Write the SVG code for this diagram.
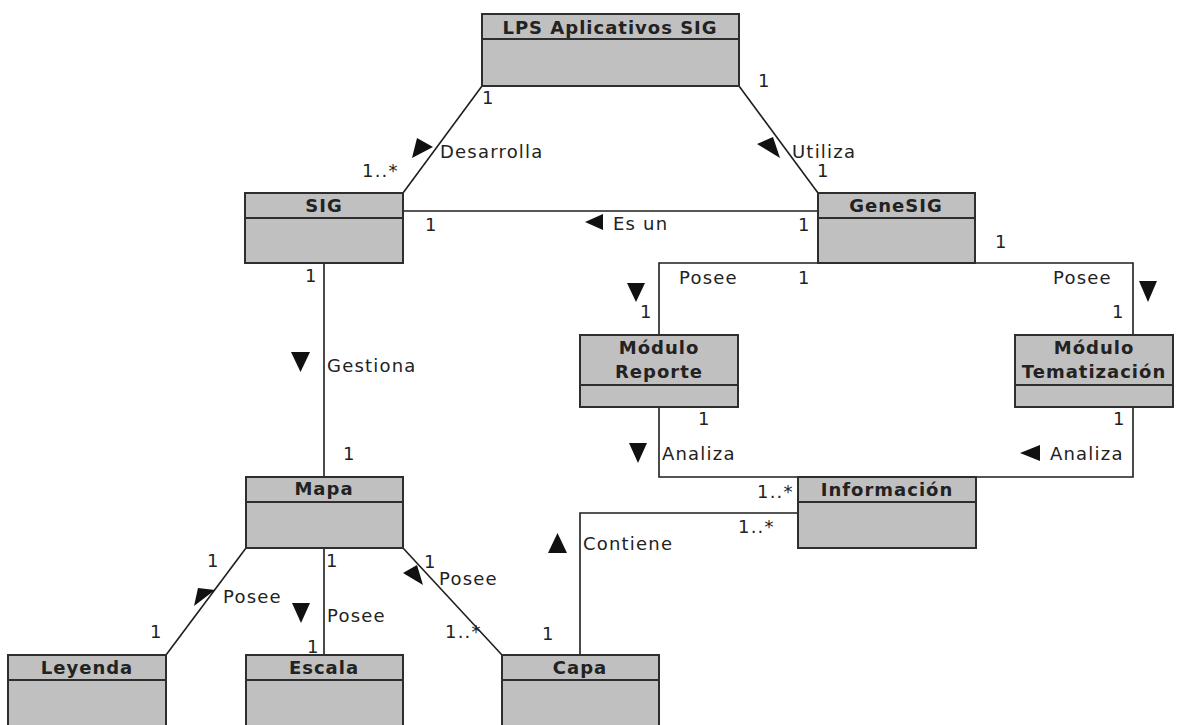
<svg xmlns="http://www.w3.org/2000/svg" width="1204" height="725" viewBox="0 0 1204 725">
  <style>
    .box { fill: #c0c0c0; stroke: #2e2e2e; stroke-width: 2; }
    .div { stroke: #2e2e2e; stroke-width: 2; }
    .ln { fill: none; stroke: #1e1e1e; stroke-width: 1.6; }
    .arr { fill: #111; }
    text { font-family: "DejaVu Sans", "Liberation Sans", sans-serif; font-size: 18px; letter-spacing: 1.2px; fill: #222; }
    .name { font-weight: bold; text-anchor: middle; letter-spacing: 1px; }
  </style>
  <rect width="1204" height="725" fill="#ffffff"/>

  <!-- associations -->
  <g id="connectors">
    <path class="ln" d="M482,86 L403,193"/>
    <path class="ln" d="M739,86 L818,193"/>
    <path class="ln" d="M403,211 H818"/>
    <path class="ln" d="M659,335 V263 H818"/>
    <path class="ln" d="M975,263 H1133 V335"/>
    <path class="ln" d="M659,407 V477 H798"/>
    <path class="ln" d="M1133,407 V477 H976"/>
    <path class="ln" d="M580,655 V513 H798"/>
    <path class="ln" d="M324,263 V477"/>
    <path class="ln" d="M246,548 L166,655"/>
    <path class="ln" d="M324,548 V655"/>
    <path class="ln" d="M403,548 L502,655"/>

    <!-- reading-direction triangles -->
    <polygon class="arr" points="417,138 433,147 412,158"/>
    <polygon class="arr" points="757,144 773,137 780,158"/>
    <polygon class="arr" points="585,222 603,214 603,230"/>
    <polygon class="arr" points="627,283 645,283 636,302"/>
    <polygon class="arr" points="1139,281 1157,281 1148,302"/>
    <polygon class="arr" points="291,352 310,352 300.5,372"/>
    <polygon class="arr" points="629,443 647,443 638,463"/>
    <polygon class="arr" points="1020,453 1040,445 1040,461"/>
    <polygon class="arr" points="548,553 567,553 557.5,533"/>
    <polygon class="arr" points="198,588 215,590 194,606"/>
    <polygon class="arr" points="292,603 310,603 301,623"/>
    <polygon class="arr" points="403,573 417,565 423,585"/>

    <!-- role names and multiplicities -->
    <text x="482" y="104">1</text>
    <text x="440" y="158">Desarrolla</text>
    <text x="362" y="177">1..*</text>
    <text x="758" y="87">1</text>
    <text x="792" y="158">Utiliza</text>
    <text x="817" y="177">1</text>
    <text x="425" y="231">1</text>
    <text x="613" y="230">Es un</text>
    <text x="798" y="231">1</text>
    <text x="995" y="248">1</text>
    <text x="679" y="284">Posee</text>
    <text x="798" y="284">1</text>
    <text x="640" y="318">1</text>
    <text x="1053" y="284">Posee</text>
    <text x="1112" y="318">1</text>
    <text x="698" y="425">1</text>
    <text x="1113" y="425">1</text>
    <text x="662" y="460">Analiza</text>
    <text x="1050" y="460">Analiza</text>
    <text x="757" y="498">1..*</text>
    <text x="738" y="533">1..*</text>
    <text x="583" y="550">Contiene</text>
    <text x="542" y="640">1</text>
    <text x="305" y="282">1</text>
    <text x="327" y="372">Gestiona</text>
    <text x="343" y="460">1</text>
    <text x="207" y="567">1</text>
    <text x="223" y="603">Posee</text>
    <text x="150" y="638">1</text>
    <text x="326" y="567">1</text>
    <text x="327" y="622">Posee</text>
    <text x="307" y="653">1</text>
    <text x="424" y="568">1</text>
    <text x="439" y="585">Posee</text>
    <text x="445" y="638">1..*</text>
  </g>

  <!-- classes -->
  <g id="lps">
    <rect class="box" x="482" y="14" width="257" height="72"/>
    <line class="div" x1="482" y1="39" x2="739" y2="39"/>
    <text class="name" x="610" y="34">LPS Aplicativos SIG</text>
  </g>
  <g id="sig">
    <rect class="box" x="245" y="193" width="158" height="70"/>
    <line class="div" x1="245" y1="218" x2="403" y2="218"/>
    <text class="name" x="324" y="212">SIG</text>
  </g>
  <g id="genesig">
    <rect class="box" x="818" y="193" width="157" height="70"/>
    <line class="div" x1="818" y1="218" x2="975" y2="218"/>
    <text class="name" x="896" y="212">GeneSIG</text>
  </g>
  <g id="modulo-reporte">
    <rect class="box" x="580" y="335" width="158" height="72"/>
    <line class="div" x1="580" y1="385" x2="738" y2="385"/>
    <text class="name" x="659" y="354">Módulo</text>
    <text class="name" x="659" y="378">Reporte</text>
  </g>
  <g id="modulo-tematizacion">
    <rect class="box" x="1015" y="335" width="158" height="72"/>
    <line class="div" x1="1015" y1="385" x2="1173" y2="385"/>
    <text class="name" x="1094" y="354">Módulo</text>
    <text class="name" x="1094" y="378">Tematización</text>
  </g>
  <g id="informacion">
    <rect class="box" x="798" y="477" width="178" height="71"/>
    <line class="div" x1="798" y1="502" x2="976" y2="502"/>
    <text class="name" x="887" y="496">Información</text>
  </g>
  <g id="mapa">
    <rect class="box" x="246" y="477" width="157" height="71"/>
    <line class="div" x1="246" y1="502" x2="403" y2="502"/>
    <text class="name" x="324" y="495">Mapa</text>
  </g>
  <g id="leyenda">
    <rect class="box" x="8" y="655" width="158" height="90"/>
    <line class="div" x1="8" y1="680" x2="166" y2="680"/>
    <text class="name" x="87" y="674">Leyenda</text>
  </g>
  <g id="escala">
    <rect class="box" x="246" y="655" width="157" height="90"/>
    <line class="div" x1="246" y1="680" x2="403" y2="680"/>
    <text class="name" x="324" y="674">Escala</text>
  </g>
  <g id="capa">
    <rect class="box" x="502" y="655" width="157" height="90"/>
    <line class="div" x1="502" y1="680" x2="659" y2="680"/>
    <text class="name" x="580" y="674">Capa</text>
  </g>
</svg>
